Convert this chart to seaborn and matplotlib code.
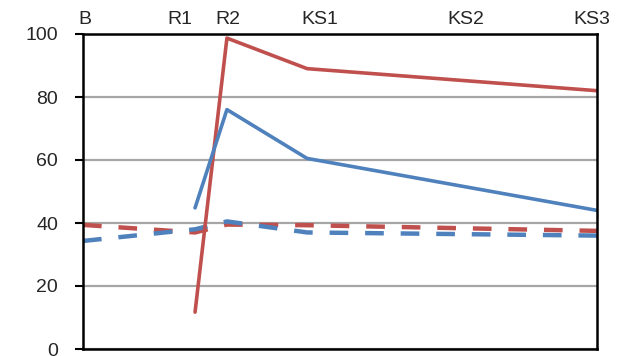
import matplotlib
matplotlib.use("Agg")
import matplotlib.pyplot as plt
import seaborn as sns
import pandas as pd

# positions along the timeline (0 = B, 100 = KS3)
x_solid = [21.8, 28.0, 43.6, 100.0]
x_dashed = [0.0, 21.8, 28.0, 43.6, 100.0]

# series values
red_solid = [11.7, 98.7, 89.0, 82.0]
blue_solid = [44.8, 76.0, 60.5, 44.0]
red_dashed = [39.4, 37.0, 39.5, 39.3, 37.5]
blue_dashed = [34.3, 38.0, 40.5, 37.0, 36.0]

# top labels
top_labels = ["B", "R1", "R2", "KS1", "KS2", "KS3"]
top_label_pos = [0.4, 18.9, 28.2, 46.1, 74.5, 99.0]

RED = "#C0504D"
BLUE = "#4F81BD"

sns.set_style("white")
plt.rcParams["font.family"] = ["Liberation Sans", "DejaVu Sans"]

fig, ax = plt.subplots(figsize=(6.18, 3.56), dpi=100)
fig.subplots_adjust(left=83 / 618, right=597 / 618, bottom=1 - 349 / 356, top=1 - 34 / 356)

series = [
    (x_dashed, red_dashed, RED, "dashed"),
    (x_dashed, blue_dashed, BLUE, "dashed"),
    (x_solid, red_solid, RED, "solid"),
    (x_solid, blue_solid, BLUE, "solid"),
]
for xs, ys, col, kind in series:
    df = pd.DataFrame({"x": xs, "y": ys})
    if kind == "dashed":
        sns.lineplot(data=df, x="x", y="y", color=col, linewidth=3.2,
                     linestyle=(0, (4.2, 3.8)), ax=ax)
    else:
        sns.lineplot(data=df, x="x", y="y", color=col, linewidth=2.6, ax=ax)

ax.set_xlim(0, 100)
ax.set_ylim(0, 100)
ax.set_yticks([0, 20, 40, 60, 80, 100])
ax.yaxis.grid(True, color="#a6a6a6", linewidth=1.6)
ax.set_axisbelow(True)
ax.tick_params(axis="y", length=6, width=1.5, color="black", pad=12, labelsize=14, left=True)

ax.xaxis.tick_top()
ax.set_xticks(top_label_pos)
ax.set_xticklabels(top_labels)
ax.tick_params(axis="x", length=0, pad=4, labelsize=14)
ax.set_xlabel("")
ax.set_ylabel("")

for s in ax.spines.values():
    s.set_visible(True)
    s.set_color("black")
    s.set_linewidth(1.8)

fig.savefig("out.png", dpi=100)
